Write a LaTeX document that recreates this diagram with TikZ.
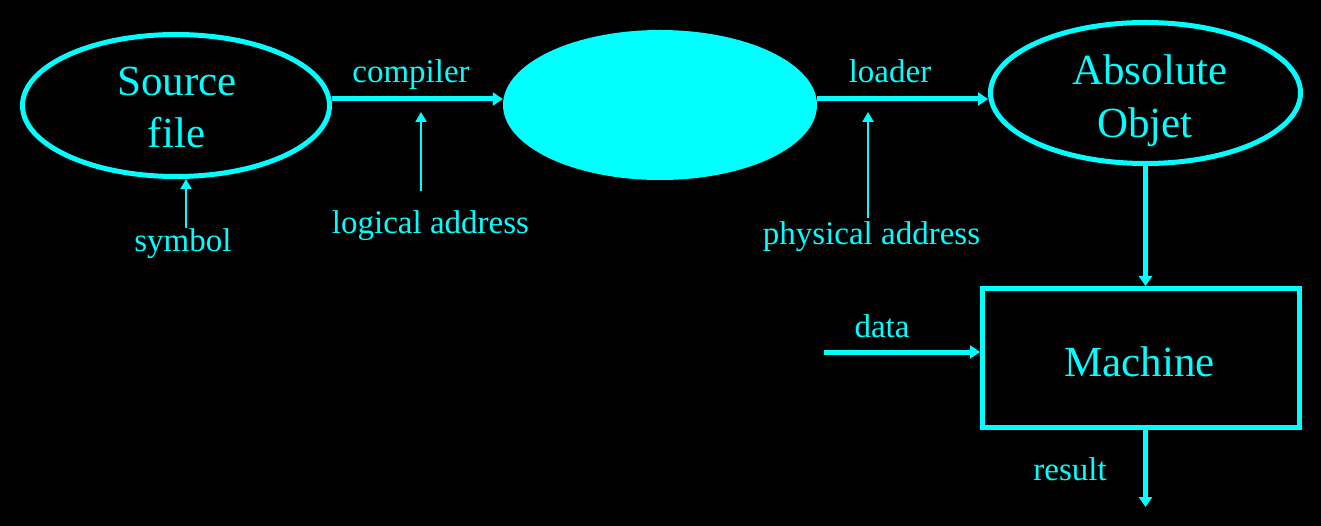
\documentclass[tikz,border=0pt]{standalone}
\usepackage{fontspec}
\setmainfont{Liberation Serif}
\usetikzlibrary{arrows.meta,shapes.geometric}
\definecolor{cy}{RGB}{0,255,255}
\begin{document}
\begin{tikzpicture}[x=1pt,y=-1pt,
  thickline/.style={draw=cy,line width=5pt},
  thinline/.style={draw=cy,line width=2pt},
  bigarrow/.style={thickline,-{Triangle[length=10pt,width=13pt]}},
  smallarrow/.style={thinline,-{Triangle[length=10pt,width=11pt]}},
  bigt/.style={text=cy,font=\fontsize{43}{52}\selectfont,anchor=base,inner sep=0pt},
  lab/.style={text=cy,font=\fontsize{33}{40}\selectfont,anchor=base,inner sep=0pt},
  ell/.style={ellipse,inner sep=0pt}]
\fill[black] (0,0) rectangle (1321,526);
\useasboundingbox (0,0) rectangle (1321,526);

% main shapes
\node[ell,thickline,minimum width=307pt,minimum height=142pt] (src) at (176,105.5) {};
\node[ell,fill=cy,minimum width=314pt,minimum height=150pt] (obj) at (660,105) {};
\node[ell,thickline,minimum width=310pt,minimum height=141pt] (abs) at (1145.5,93) {};
\node[draw=cy,line width=5pt,minimum width=317pt,minimum height=139pt,inner sep=0pt] (mach) at (1141,358) {};

% texts
\node[bigt] (srcA) at (177,96) {Source};
\node[bigt] (srcB) at (176.5,148) {file};
\node[bigt] (absA) at (1150,85) {Absolute};
\node[bigt] (absB) at (1145,138) {Objet};
\node[bigt] (machT) at (1139.5,376) {Machine};

\node[lab] (comp) at (411,83) {compiler};
\node[lab] (load) at (890,83) {loader};
\node[lab] (sym) at (183,252) {symbol};
\node[lab] (logad) at (430.5,234) {logical address};
\node[lab] (phyad) at (871.5,245) {physical address};
\node[lab] (dat) at (882,337) {data};
\node[lab] (res) at (1070,480) {result};

% coordinates
\coordinate (y1) at (0,99);
\coordinate (d0) at (824,352);
\coordinate (r0) at (1145.5,507);
\coordinate (s0) at (186,228);
\coordinate (l0) at (421,191);
\coordinate (l1) at (421,112);
\coordinate (p0) at (868,218);
\coordinate (p1) at (868,112);

% connectors
\draw[bigarrow] (src.east |- y1) -- (obj.west |- y1);
\draw[bigarrow] (obj.east |- y1) -- (abs.west |- y1);
\draw[bigarrow] (abs.south) -- (mach.north -| abs.south);
\draw[bigarrow] (d0) -- (d0 -| mach.west);
\draw[bigarrow] (mach.south -| abs.south) -- (r0);

\draw[smallarrow] (s0) -- (s0 |- src.south);
\draw[smallarrow] (l0) -- (l1);
\draw[smallarrow] (p0) -- (p1);
\end{tikzpicture}
\end{document}
